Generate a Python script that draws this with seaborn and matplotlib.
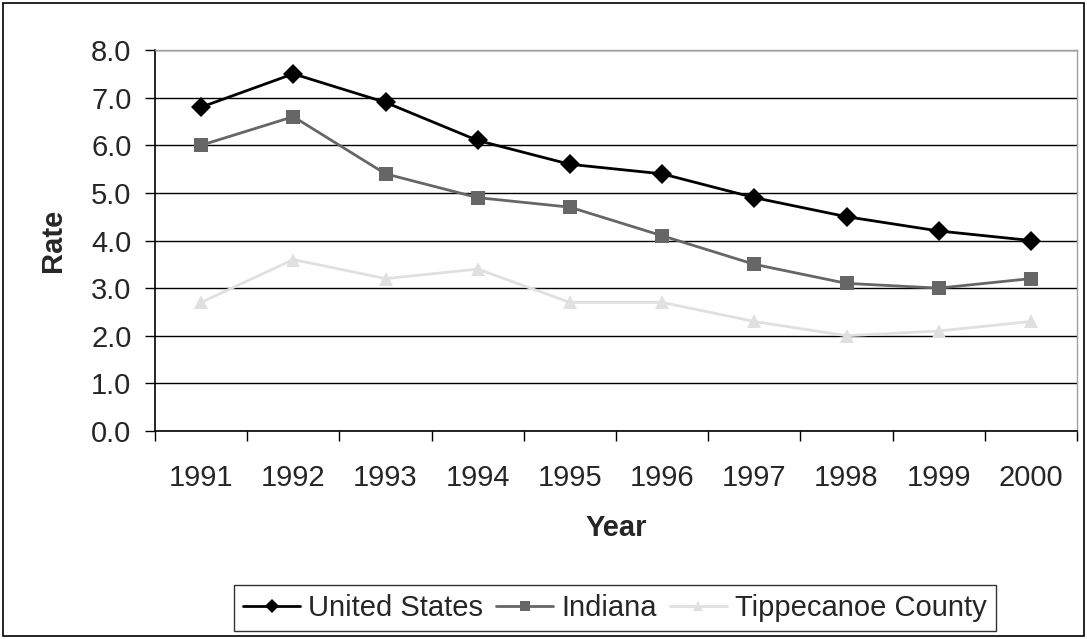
import numpy as np
import pandas as pd
import matplotlib
matplotlib.use("Agg")
import matplotlib.pyplot as plt
from matplotlib.patches import Rectangle
from matplotlib.ticker import FixedLocator, FormatStrFormatter
import seaborn as sns

# Data
years = ["1991", "1992", "1993", "1994", "1995", "1996", "1997", "1998", "1999", "2000"]
united_states = [6.8, 7.5, 6.9, 6.1, 5.6, 5.4, 4.9, 4.5, 4.2, 4.0]
indiana = [6.0, 6.6, 5.4, 4.9, 4.7, 4.1, 3.5, 3.1, 3.0, 3.2]
tippecanoe = [2.7, 3.6, 3.2, 3.4, 2.7, 2.7, 2.3, 2.0, 2.1, 2.3]
series_names = ["United States", "Indiana", "Tippecanoe County"]

df = pd.DataFrame({
    "pos": list(range(len(years))) * 3,
    "Rate": united_states + indiana + tippecanoe,
    "Series": np.repeat(series_names, len(years)),
})

sns.set_style("white")
plt.rcParams["font.family"] = ["Liberation Sans", "DejaVu Sans"]
FS = 21

fig = plt.figure(figsize=(10.87, 6.39), dpi=100)
ax = fig.add_axes([155 / 1087, 1 - 431 / 639, (1077 - 155) / 1087, (431 - 50) / 639])

palette = {"United States": "#000000", "Indiana": "#666666", "Tippecanoe County": "#e0e0e0"}
markers = {"United States": "D", "Indiana": "s", "Tippecanoe County": "^"}
sns.lineplot(data=df, x="pos", y="Rate", hue="Series", style="Series",
             palette=palette, markers=markers, dashes=False, linewidth=2,
             markersize=10, markeredgewidth=0, ax=ax, zorder=3)

# y axis
ax.set_ylim(0, 8)
ax.set_yticks(np.arange(0, 8.1, 1.0))
ax.yaxis.set_major_formatter(FormatStrFormatter("%.1f"))
ax.yaxis.grid(True, color="black", linewidth=1)
ax.tick_params(axis="y", which="major", left=True, length=7, width=1, color="black",
               labelsize=FS, pad=10)

# x axis: categories centred, ticks between them
ax.set_xlim(-0.5, len(years) - 0.5)
ax.xaxis.set_major_locator(FixedLocator(np.arange(-0.5, len(years), 1.0)))
ax.xaxis.set_minor_locator(FixedLocator(np.arange(len(years))))
ax.set_xticklabels([""] * (len(years) + 1))
ax.set_xticklabels(years, minor=True)
ax.tick_params(axis="x", which="major", bottom=True, length=7, width=1, color="black")
ax.tick_params(axis="x", which="minor", bottom=True, length=0, labelsize=FS, pad=24)

ax.set_ylabel("Rate", fontsize=FS, fontweight="bold")
ax.set_xlabel("Year", fontsize=FS, fontweight="bold")
ax.yaxis.set_label_coords((67 - 155) / 922, 0.5)
ax.xaxis.set_label_coords(0.5, (431 - 514) / 381)

for side in ["left", "bottom"]:
    ax.spines[side].set_color("black")
    ax.spines[side].set_linewidth(1.2)
for side in ["top", "right"]:
    ax.spines[side].set_color("#a0a0a0")
    ax.spines[side].set_linewidth(1)

ax.get_legend().remove()
handles, labels = ax.get_legend_handles_labels()
leg = fig.legend(handles, labels, loc="center", bbox_to_anchor=(615 / 1087, 1 - 608 / 639),
                 ncol=3, fontsize=FS, frameon=True, fancybox=False, handlelength=1.95,
                 handletextpad=0.28, columnspacing=0.45, borderpad=0.3, borderaxespad=0)
leg.get_frame().set_edgecolor("black")
leg.get_frame().set_linewidth(1)
for h in leg.legend_handles:
    h.set_markersize(7)

# outer chart border
fig.patches.append(Rectangle((0.003, 0.004), 0.994, 0.992, transform=fig.transFigure,
                             fill=False, edgecolor="black", linewidth=1.2))

fig.savefig("out.png", dpi=100)
